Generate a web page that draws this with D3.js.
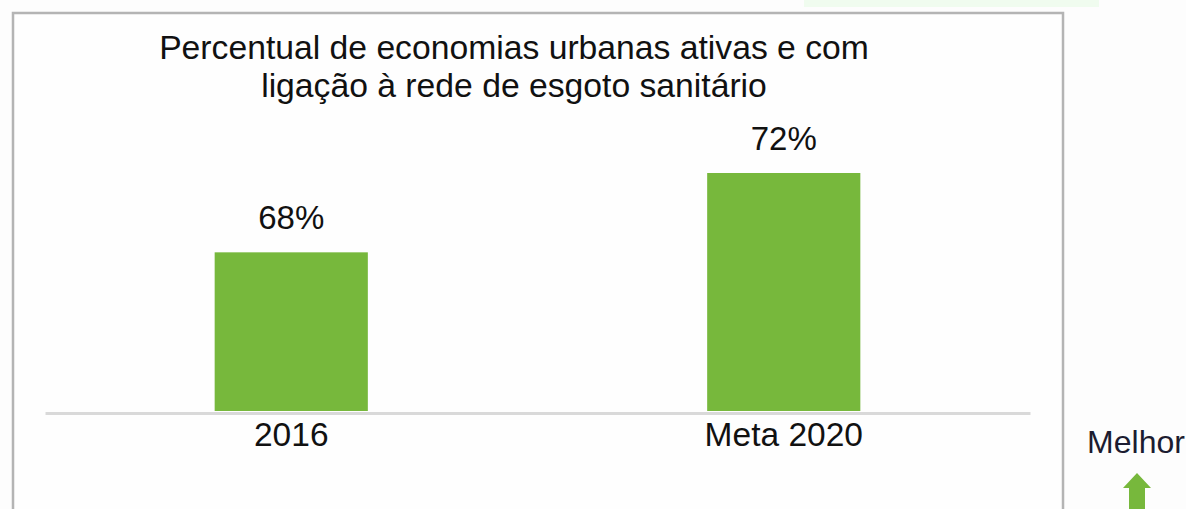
<!DOCTYPE html>
<html>
<head>
<meta charset="utf-8">
<script src="https://cdn.jsdelivr.net/npm/d3@7"></script>
<style>
  html, body { margin: 0; padding: 0; background: #ffffff; }
  svg { display: block; }
  text { font-family: "Liberation Sans", Arial, sans-serif; }
</style>
</head>
<body>
<svg id="chart" width="1186" height="509"></svg>
<script>
const categories = ["2016", "Meta 2020"];
const values = [68, 72];
const valueLabels = ["68%", "72%"];
const titleLines = ["Percentual de economias urbanas ativas e com", "ligação à rede de esgoto sanitário"];
const axisMin = 60;
const sideLabel = "Melhor";

const svg = d3.select("#chart");
const W = 1186, H = 509;

svg.append("rect").attr("width", W).attr("height", H).attr("fill", "#fdfdfd");

// light green strip at top
svg.append("rect").attr("x", 804).attr("y", 0).attr("width", 295).attr("height", 7).attr("fill", "#f0fcef");

// frame
svg.append("rect").attr("x", 13).attr("y", 13).attr("width", 1050).attr("height", 520)
  .attr("fill", "#fefefe").attr("stroke", "#b4b4b4").attr("stroke-width", 2.5);

const baseY = 411;
const x = d3.scaleBand().domain(categories).range([45, 1030]).paddingInner(0.689).paddingOuter(0.3445);
const y = d3.scaleLinear().domain([axisMin, 72]).range([baseY, 173]);

// title
svg.selectAll("text.title").data(titleLines).join("text")
  .attr("class", "title")
  .attr("x", 514).attr("y", (d, i) => 59 + i * 38)
  .attr("text-anchor", "middle").attr("font-size", 33.7).attr("fill", "#111")
  .text(d => d);

// bars
svg.selectAll("rect.bar").data(values).join("rect")
  .attr("class", "bar")
  .attr("x", (d, i) => x(categories[i]))
  .attr("width", x.bandwidth())
  .attr("y", d => y(d))
  .attr("height", d => y(axisMin) - y(d))
  .attr("fill", "#77b83c");

// value labels
svg.selectAll("text.val").data(values).join("text")
  .attr("class", "val")
  .attr("x", (d, i) => x(categories[i]) + x.bandwidth() / 2)
  .attr("y", d => y(d) - 23)
  .attr("text-anchor", "middle").attr("font-size", 33).attr("fill", "#111")
  .text((d, i) => valueLabels[i]);

// baseline axis
const axis = svg.append("g").attr("transform", `translate(0,${baseY + 2})`)
  .call(d3.axisBottom(x).tickSize(0).tickPadding(0));
axis.select(".domain").attr("stroke", "#d9d9d9").attr("stroke-width", 3);
axis.selectAll(".tick text")
  .attr("font-family", "Liberation Sans, Arial, sans-serif")
  .attr("font-size", 33.5).attr("fill", "#111")
  .attr("dy", 0).attr("y", 33);

// side label and arrow
svg.append("text").attr("x", 1136).attr("y", 453)
  .attr("text-anchor", "middle").attr("font-size", 32).attr("fill", "#1c1c30")
  .text(sideLabel);

const arrow = d3.path();
arrow.moveTo(1137, 473);
arrow.lineTo(1151, 488);
arrow.lineTo(1145, 488);
arrow.lineTo(1145, 515);
arrow.lineTo(1129, 515);
arrow.lineTo(1129, 488);
arrow.lineTo(1123, 488);
arrow.closePath();
svg.append("path").attr("d", arrow.toString()).attr("fill", "#77b83c");
</script>
</body>
</html>
